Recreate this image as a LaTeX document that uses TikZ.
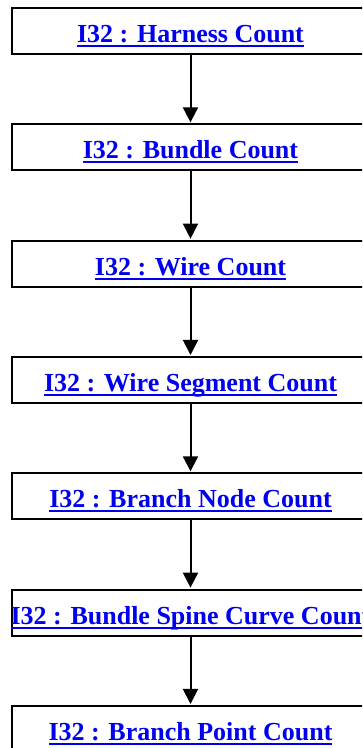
\documentclass[tikz,border=0pt]{standalone}
\usepackage{fontspec}
\setmainfont{Liberation Serif}
\usetikzlibrary{arrows.meta}
\definecolor{linkblue}{RGB}{0,0,238}
\tikzset{
  x=1pt, y=-1pt,
  boxline/.style={draw=black, line width=2.1pt},
  lbl/.style={font=\fontsize{26}{30}\selectfont\bfseries, text=linkblue, anchor=base, inner sep=0pt},
  conn/.style={line width=2pt, -{Triangle[width=15pt,length=15pt]}, shorten >=1pt}
}
\begin{document}
\begin{tikzpicture}
\useasboundingbox (0,0) rectangle (362,748);
\begin{scope}
\clip (0,0) rectangle (362,748);
\foreach \i/\t in {0/Harness Count,1/Bundle Count,2/Wire Count,3/Wire Segment Count,4/Branch Node Count,5/Bundle Spine Curve Count,6/Branch Point Count}{
  \pgfmathsetmacro{\top}{7+116.33*\i}
  \node[boxline, minimum width=359pt, minimum height=46pt, anchor=north west, inner sep=0pt] (b\i) at (11,\top) {};
  \node[lbl] (t\i) at (190.5,\top+35.5) {\setbox0\hbox{I32 : \t}\rlap{\rule[-4.6pt]{\wd0}{2pt}}\box0};
}
\end{scope}
\foreach \i [evaluate=\i as \j using int(\i+1)] in {0,...,5}{
  \draw[conn] (190.5,{53+116.33*\i}) coordinate (s\i) -- (b\j.north -| s\i);
}
\end{tikzpicture}
\end{document}
